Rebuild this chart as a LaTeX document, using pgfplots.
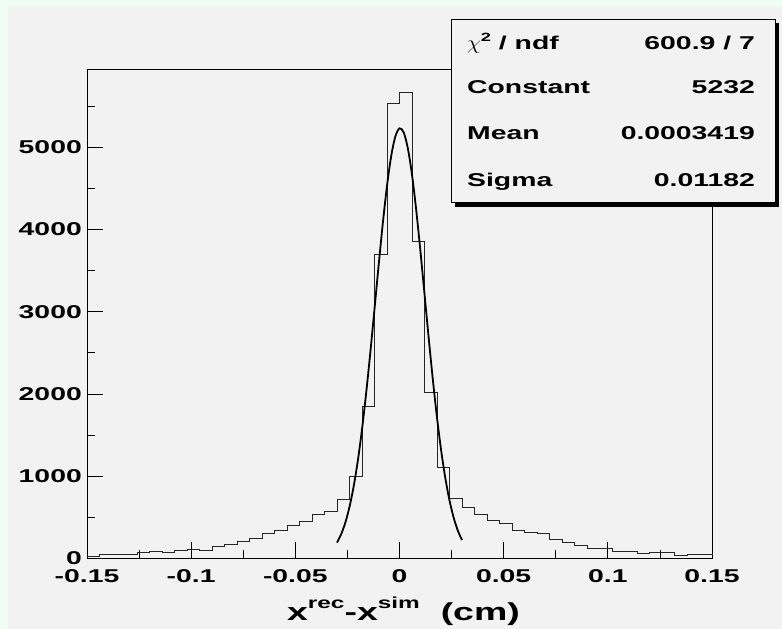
\documentclass[border=0pt]{standalone}
\usepackage{fontspec}
\setmainfont{Liberation Sans}[FakeStretch=1.53]
\usepackage{pgfplots}
\pgfplotsset{compat=1.18}
\definecolor{canvas}{RGB}{242,242,242}
\definecolor{mint}{RGB}{240,253,246}
\newcommand{\tickfont}{\fontsize{18.6}{20}\selectfont\bfseries}
\begin{document}
\begin{tikzpicture}
\useasboundingbox (0,0) rectangle (782bp,629bp);
\fill[mint] (0,0) rectangle (782bp,629bp);
\fill[canvas] (8bp,0) rectangle (782bp,622bp);
\begin{axis}[
  at={(87bp,70.5bp)}, anchor=south west,
  scale only axis, width=625bp, height=489bp,
  xmin=-0.15, xmax=0.15, ymin=0, ymax=5945,
  axis background/.style={fill=canvas},
  axis line style={black, line width=1bp},
  tick pos=left, tick align=inside,
  major tick length=16bp, minor tick length=8bp,
  every tick/.style={black, line width=0.8bp},
  xtick={-0.15,-0.1,-0.05,0,0.05,0.1,0.15},
  xticklabels={-0.15,-0.1,-0.05,0,0.05,0.1,0.15},
  minor xtick={-0.125,-0.075,-0.025,0.025,0.075,0.125},
  ytick={0,1000,2000,3000,4000,5000},
  yticklabels={0,1000,2000,3000,4000,5000},
  minor ytick={500,1500,2500,3500,4500,5500},
  /pgf/number format/assume math mode=true,
  xticklabel style={font=\tickfont, inner sep=0pt, anchor=north, yshift=-10.5bp},
  yticklabel style={font=\tickfont, inner sep=0pt, anchor=east, xshift=-5bp},
  xlabel={x\raisebox{11.5bp}{\fontsize{16}{16}\selectfont rec}-x\raisebox{11.5bp}{\fontsize{16}{16}\selectfont sim}\ \ (cm)},
  xlabel style={font=\fontsize{24.6}{26}\selectfont\bfseries, at={(axis description cs:0.5,0)}, anchor=base, yshift=-61.5bp, xshift=4bp, inner sep=0pt},
  clip=true,
]
\addplot[const plot, black!85, line width=1bp] coordinates {
(-0.150,28) (-0.144,44) (-0.138,53) (-0.132,44) (-0.126,75)
(-0.120,91) (-0.114,79) (-0.108,101) (-0.102,113) (-0.096,103)
(-0.090,144) (-0.084,170) (-0.078,210) (-0.072,245) (-0.066,302)
(-0.060,346) (-0.054,397) (-0.048,445) (-0.042,533) (-0.036,569)
(-0.030,715) (-0.024,994) (-0.018,1844) (-0.012,3700) (-0.006,5531)
(0.000,5660) (0.006,3849) (0.012,2015) (0.018,1105) (0.024,731)
(0.030,625) (0.036,537) (0.042,457) (0.048,427) (0.054,336)
(0.060,318) (0.066,300) (0.072,225) (0.078,198) (0.084,160)
(0.090,124) (0.096,124) (0.102,91) (0.108,87) (0.114,63)
(0.120,71) (0.126,75) (0.132,39) (0.138,46) (0.144,51)
(0.150,51)
};
\addplot[smooth, black, line width=1.8bp] coordinates {
(-0.030,194.0) (-0.028,295.4) (-0.026,436.7) (-0.024,627.6) (-0.022,876.7)
(-0.020,1190.1) (-0.018,1569.6) (-0.016,2011.8) (-0.014,2505.9) (-0.012,3033.4)
(-0.010,3568.0) (-0.008,4078.5) (-0.006,4530.6) (-0.004,4890.6) (-0.002,5130.3)
(0.000,5229.8) (0.002,5180.8) (0.004,4987.4) (0.006,4665.6) (0.008,4241.5)
(0.010,3747.1) (0.012,3216.8) (0.014,2683.6) (0.016,2175.8) (0.018,1714.0)
(0.020,1312.4) (0.022,976.4) (0.024,706.0) (0.026,495.9) (0.028,338.6)
(0.030,224.6)
};
\end{axis}
% statistics box
\fill[black] (455bp,422.3bp) rectangle (779bp,605.7bp);
\filldraw[fill=canvas, draw=black, line width=1bp] (451bp,426.3bp) rectangle (775bp,609.7bp);
\begin{scope}[every node/.style={inner sep=0pt, font=\tickfont}]
\node[anchor=base west] at (467bp,579.7bp) {\scalebox{1.3}[1.15]{$\chi$}\raisebox{8bp}{\fontsize{12}{12}\selectfont 2} / ndf};
\node[anchor=base east] at (755bp,579.7bp) {600.9 / 7};
\node[anchor=base west] at (467bp,535.7bp) {Constant};
\node[anchor=base east] at (755bp,535.7bp) {5232};
\node[anchor=base west] at (467bp,489bp) {Mean};
\node[anchor=base east] at (755bp,489bp) {0.0003419};
\node[anchor=base west] at (467bp,442.3bp) {Sigma};
\node[anchor=base east] at (755bp,442.3bp) {0.01182};
\end{scope}
\end{tikzpicture}
\end{document}
